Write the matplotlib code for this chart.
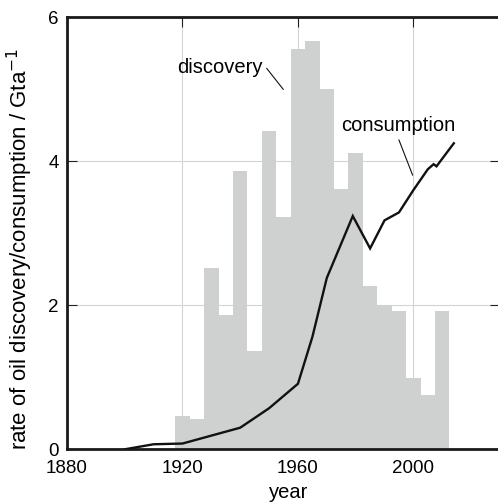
import matplotlib
matplotlib.use("Agg")
import matplotlib.pyplot as plt

# ── data ───────────────────────────────────────────────────────────────────
disc_years = [1920, 1925, 1930, 1935, 1940, 1945, 1950, 1955, 1960, 1965,
              1970, 1975, 1980, 1985, 1990, 1995, 2000, 2005, 2010]
disc_rate = [0.46, 0.42, 2.52, 1.87, 3.87, 1.37, 4.42, 3.22, 5.56, 5.67,
             5.01, 3.62, 4.11, 2.27, 2.01, 1.92, 0.99, 0.76, 1.92]

cons_years = [1900, 1910, 1920, 1930, 1940, 1950, 1960, 1965, 1970, 1979,
              1985, 1990, 1995, 2000, 2005, 2007, 2008, 2014]
cons_rate = [0.0, 0.07, 0.08, 0.19, 0.30, 0.57, 0.91, 1.56, 2.38, 3.24,
             2.79, 3.18, 3.29, 3.60, 3.89, 3.96, 3.93, 4.25]

xticks = [1880, 1920, 1960, 2000]
yticks = [0, 2, 4, 6]

plt.rcParams["font.family"] = ["Liberation Sans", "DejaVu Sans"]

fig = plt.figure(figsize=(4.98, 5.03), dpi=100)
ax = fig.add_axes([67 / 498, 1 - 449.3 / 503, 433 / 498, 432 / 503])

ax.bar(disc_years, disc_rate, width=5, color="#cfd1d0", linewidth=0, zorder=1)
ax.plot(cons_years, cons_rate, color="#111111", lw=1.7, zorder=3,
        solid_joinstyle="miter")

ax.set_xlim(1880, 2030)
ax.set_ylim(0, 6)
ax.set_xticks(xticks)
ax.set_yticks(yticks)
ax.set_axisbelow(True)
ax.grid(True, color="#d4d4d4", lw=0.8)
ax.tick_params(direction="in", length=7, width=0.8, color="#222222",
               top=True, right=True, labelsize=13.5)
ax.tick_params(axis="x", pad=8)
ax.tick_params(axis="y", pad=6)
for s in ax.spines.values():
    s.set_linewidth(2.0)
    s.set_color("#1a1a1a")

# annotations
ax.text(1918.0, 5.23, "discovery", fontsize=14.5, ha="left", va="baseline")
ax.plot([1949.2, 1954.9], [5.29, 5.0], color="#111111", lw=0.8, zorder=4)
ax.text(1974.9, 4.425, "consumption", fontsize=14.5, ha="left", va="baseline")
ax.plot([1995.0, 1999.7], [4.296, 3.81], color="#111111", lw=0.8, zorder=4)

fig.text(20 / 498, 1 - 249 / 503, "rate of oil discovery/consumption / Gta$^{-1}$",
         rotation=90, ha="center", va="center", fontsize=16)
fig.text(288.8 / 498, 1 - 498 / 503, "year", ha="center", va="baseline",
         fontsize=14.5)

fig.savefig("out.png", dpi=100)
